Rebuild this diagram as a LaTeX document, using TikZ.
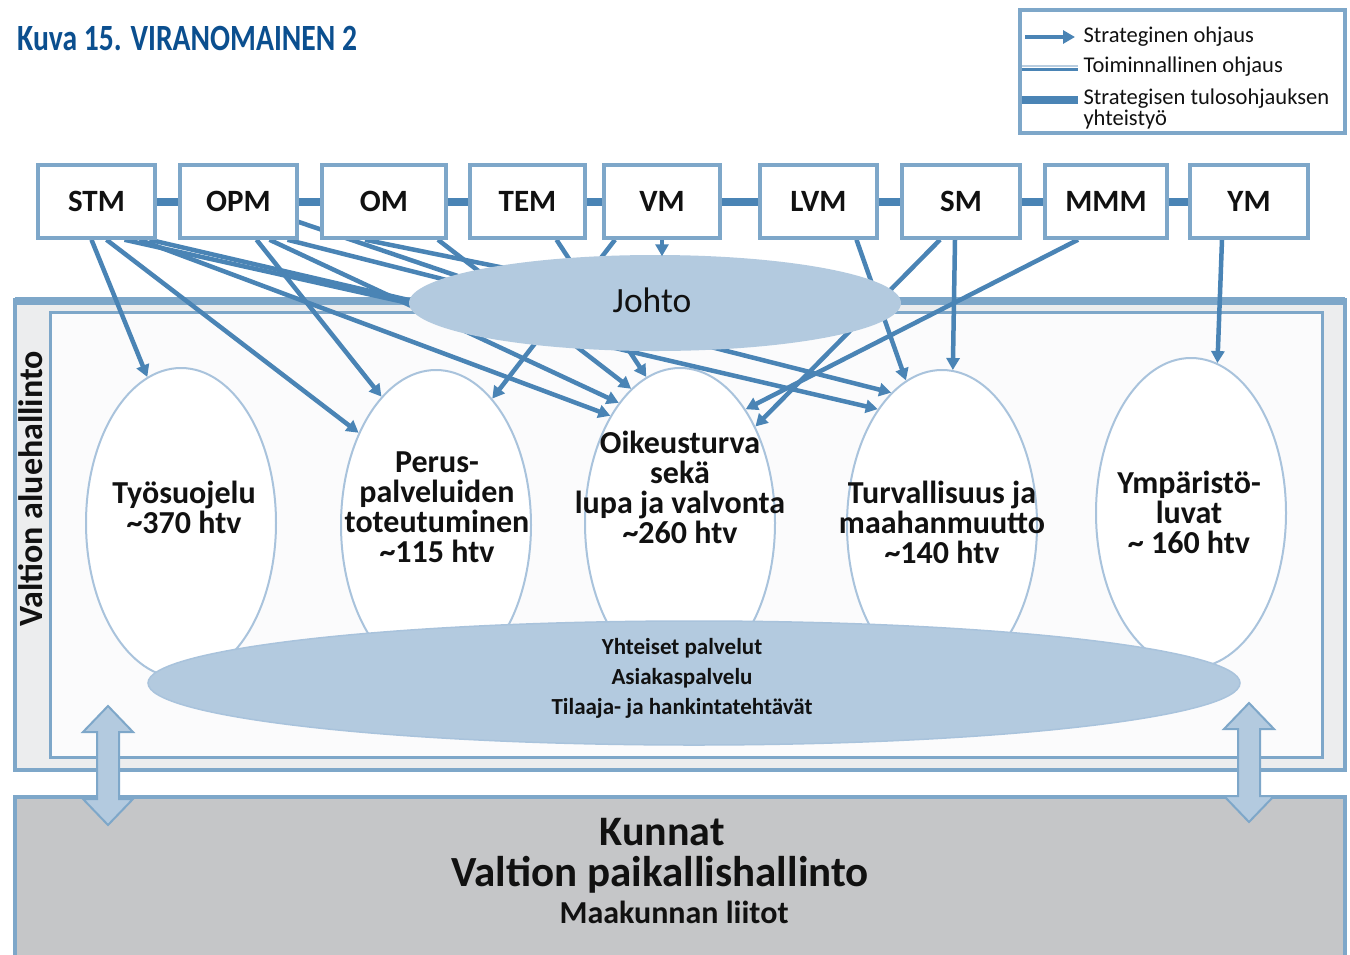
\documentclass[tikz,border=0pt]{standalone}
\usepackage{fontspec}
\setmainfont{Carlito}
\newfontfamily\titlefont{Carlito}[FakeStretch=0.8]
\usetikzlibrary{shapes.geometric,arrows.meta}
\definecolor{bord}{HTML}{7EA7C9}
\definecolor{lblue}{HTML}{4A84B5}
\definecolor{ellfill}{HTML}{B3CADF}
\definecolor{ellbord}{HTML}{A9C3DC}
\definecolor{outerfill}{HTML}{ECEDEE}
\definecolor{innerfill}{HTML}{FBFBFC}
\definecolor{grayfill}{HTML}{C5C6C8}
\definecolor{titleblue}{HTML}{0B4F8F}
\definecolor{lightline}{HTML}{B8CDE0}
\definecolor{txt}{HTML}{111111}
\pgfdeclarelayer{back}
\pgfdeclarelayer{lines}
\pgfsetlayers{back,lines,main}
\tikzset{
  ministry/.style={draw=bord, line width=3.5pt, fill=white, minimum width=117pt,
    minimum height=73pt, inner sep=0pt, text=txt,
    font=\fontsize{31}{31}\selectfont\bfseries},
  strat/.style={draw=lblue, line width=4.5pt, -{Triangle[length=12pt,width=13pt]}},
  tojohto/.style={draw=lblue, line width=4.5pt, shorten >=-25pt},
  link/.style={draw=lblue, line width=8pt},
  tallell/.style={ellipse, draw=ellbord, line width=2pt, fill=white,
    minimum width=190pt, minimum height=310pt, inner sep=0pt},
  blueell/.style={ellipse, draw=ellbord, line width=1.5pt, fill=ellfill, inner sep=0pt},
  elltext/.style={align=center, text=txt, font=\fontsize{32}{30}\selectfont\bfseries},
  smalltext/.style={align=center, text=txt, font=\fontsize{23}{30}\selectfont\bfseries},
  legtext/.style={anchor=west, text=txt, align=left, font=\fontsize{22.5}{21}\selectfont},
  dblarrow/.style={draw=bord, line width=2pt, fill=ellfill},
}
\begin{document}
\begin{tikzpicture}[x=1pt,y=-1pt]
\useasboundingbox (0,0) rectangle (1350,954);

% ---------- background regions ----------
\begin{pgfonlayer}{back}
\fill[white] (0,0) rectangle (1350,954);
\draw[bord, line width=4pt, fill=outerfill] (15,300) rectangle (1345,770);
\draw[bord, line width=8pt] (15,301) -- (1345,301);
\draw[bord, line width=3pt, fill=innerfill] (50,312) rectangle (1322,757);
\node[rotate=90, text=txt, font=\fontsize{34}{34}\selectfont\bfseries] (aluehall) at (31,489) {Valtion aluehallinto};

\draw[bord, line width=4pt, fill=grayfill] (15,797) rectangle (1345,964);

\node[tallell] (tyo) at (181,523) {};
\node[tallell] (perus) at (436,525) {};
\node[tallell] (oik) at (680,523) {};
\node[tallell] (turv) at (942,525) {};
\node[tallell] (ymp) at (1191,513) {};

\node[blueell, minimum width=1092pt, minimum height=124pt] (yht) at (694,683) {};
\end{pgfonlayer}

% ---------- title ----------
\node[anchor=west, text=titleblue, inner sep=0pt,
  font=\titlefont\bfseries\fontsize{37}{37}\selectfont] (title) at (17,38) {Kuva 15. VIRANOMAINEN 2};

% ---------- legend ----------
\draw[bord, line width=4pt, fill=white] (1020,10) rectangle (1345,133);
\coordinate (la1) at (1025,37);  \coordinate (la2) at (1075,37);
\draw[strat] (la1) -- (la2);
\node[legtext] (lt1) at (1080,37) {Strateginen ohjaus};
\coordinate (lb1) at (1022,66);  \coordinate (lb2) at (1078,66);
\coordinate (lc1) at (1022,69.5);  \coordinate (lc2) at (1078,69.5);
\draw[lightline, line width=2.5pt] (lb1) -- (lb2);
\draw[lblue, line width=2.5pt] (lc1) -- (lc2);
\node[legtext] (lt2) at (1080,67) {Toiminnallinen ohjaus};
\coordinate (ld1) at (1022,100);  \coordinate (ld2) at (1078,100);
\draw[lblue, line width=8pt] (ld1) -- (ld2);
\node[legtext] (lt3) at (1080,109) {Strategisen tulosohjauksen\\yhteistyö};

% ---------- texts in ellipses ----------
\node[elltext] (tyoT) at (184,507) {Työsuojelu\\\textasciitilde370 htv};
\node[elltext] (perusT) at (437,507) {Perus-\\palveluiden\\toteutuminen\\\textasciitilde115 htv};
\node[elltext] (oikT) at (680,487) {Oikeusturva\\sekä\\lupa ja valvonta\\\textasciitilde260 htv};
\node[elltext] (turvT) at (942,522) {Turvallisuus ja\\maahanmuutto\\\textasciitilde140 htv};
\node[elltext] (ympT) at (1189,512) {Ympäristö-\\luvat\\\textasciitilde{} 160 htv};
\node[smalltext] (yhtT) at (682,678) {Yhteiset palvelut\\Asiakaspalvelu\\Tilaaja- ja hankintatehtävät};

% ---------- bottom texts ----------
\node[text=txt, font=\fontsize{42}{42}\selectfont\bfseries] (kunnat) at (662,832) {Kunnat};
\node[text=txt, font=\fontsize{43}{43}\selectfont\bfseries] (paikal) at (660,875) {Valtion paikallishallinto};
\node[text=txt, font=\fontsize{32}{32}\selectfont\bfseries] (maak) at (674,912) {Maakunnan liitot};

% ---------- double arrows ----------
\draw[dblarrow] (108,706) -- (133,732) -- (119,732) -- (119,799) -- (133,799) -- (108,825)
  -- (83,799) -- (97,799) -- (97,732) -- (83,732) -- cycle;
\draw[dblarrow] (1249,703) -- (1274,729) -- (1260,729) -- (1260,796) -- (1274,796) -- (1249,822)
  -- (1224,796) -- (1238,796) -- (1238,729) -- (1224,729) -- cycle;

% ---------- Johto ----------
\node[blueell, draw=none, minimum width=492pt, minimum height=96pt] (johto) at (655,303) {};
\node[text=txt, font=\fontsize{35.5}{36}\selectfont] (johtoT) at (652,300) {Johto};

% ---------- ministries ----------
\node[ministry] (STM) at (96.5,201.5) {STM};
\node[ministry] (OPM) at (238.5,201.5) {OPM};
\node[ministry, minimum width=124pt] (OM) at (384,201.5) {OM};
\node[ministry, minimum width=115pt] (TEM) at (527.5,201.5) {TEM};
\node[ministry, minimum width=116pt] (VM) at (662,201.5) {VM};
\node[ministry] (LVM) at (818.5,201.5) {LVM};
\node[ministry, minimum width=118pt] (SM) at (961,201.5) {SM};
\node[ministry, minimum width=122pt] (MMM) at (1106,201.5) {MMM};
\node[ministry, minimum width=118pt] (YM) at (1249,201.5) {YM};

\draw[strat] (VM.south) -- ([yshift=-2pt]VM.south |- johto.north);

% ---------- connectors ----------
\begin{pgfonlayer}{lines}
\draw[link] (STM) -- (OPM);
\draw[link] (OPM) -- (OM);
\draw[link] (OM) -- (TEM);
\draw[link] (TEM) -- (VM);
\draw[link] (VM) -- (LVM);
\draw[link] (LVM) -- (SM);
\draw[link] (SM) -- (MMM);
\draw[link] (MMM) -- (YM);

% STM
\draw[strat] ([xshift=-5pt]STM.south) -- (tyo.103);
\draw[strat] ([xshift=10pt]STM.south) -- (perus.130);
\draw[tojohto] ([xshift=28pt]STM.south) -- (johto.west);
\draw[strat] ([xshift=43pt]STM.south) -- (oik.123);
\draw[strat] ([xshift=53pt]STM.south) -- (turv.119);
% OPM
\draw[strat] ([xshift=18pt]OPM.south) -- (perus.113);
\draw[strat] ([xshift=31pt]OPM.south) -- (oik.117);
\draw[strat] ([xshift=49pt]OPM.south) -- (turv.111);
\draw[tojohto] (OPM.center) -- (johto.172);
% OM
\draw[tojohto] ([xshift=-19pt]OM.south) -- (johto.167);
\draw[strat] ([xshift=54pt]OM.south) -- (oik.110);
% TEM
\draw[strat] ([xshift=29pt]TEM.south) -- (oik.103);
% VM
\draw[strat] ([xshift=-47pt]VM.south) -- (perus.66);
% LVM
\draw[strat] ([xshift=38pt]LVM.south) -- (turv.104);
% SM
\draw[strat] ([xshift=-21pt]SM.south) -- (oik.52);
\draw[strat] ([xshift=-6pt]SM.south) -- (turv.86);
% MMM
\draw[strat] ([xshift=-28pt]MMM.south) -- (oik.60);
% YM
\draw[strat] ([xshift=-27pt]YM.south) -- (ymp.80);
\end{pgfonlayer}
\end{tikzpicture}
\end{document}
